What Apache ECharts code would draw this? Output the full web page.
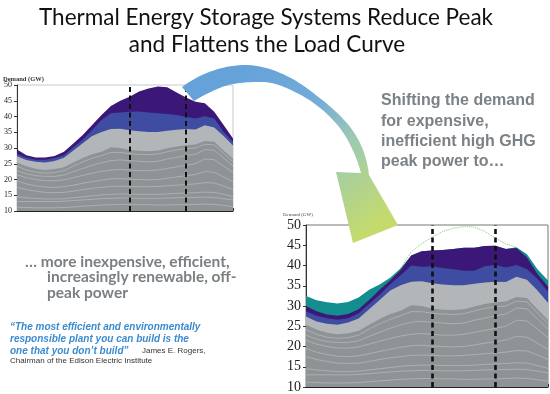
<!DOCTYPE html>
<html><head><meta charset="utf-8">
<script src="https://cdn.jsdelivr.net/npm/echarts@6/dist/echarts.min.js"></script>
<style>html,body{margin:0;padding:0;background:#fff;}#c{width:550px;height:394px;}</style>
</head><body><div id="c"></div>
<script>
// ---- data (GW by hour) ----
const hours = [0,1,2,3,4,5,6,7,8,9,10,11,12,13,14,15,16,17,18,19,20,21,22,23];
const peakWindow = [12, 18];
// shared base generation layers
const lightGrayTop = [27.4,26.2,25.6,25.4,25.9,26.9,29.2,31.5,33.8,35.1,36.0,36.1,35.6,35.3,35.1,35.1,35.5,35.8,36.0,35.9,37.2,36.5,33.8,30.8];
const darkGrayTop  = [25.4,24.2,23.4,23.0,23.3,23.9,25.4,26.8,28.0,28.8,30.2,30.0,29.4,29.1,29.0,29.2,29.9,30.5,30.9,31.1,32.2,32.0,29.2,26.6];
const genLine1 = [24.2,23.0,22.3,22.0,22.2,22.8,24.3,25.6,26.7,27.6,28.6,28.6,28.2,28.0,27.9,28.1,28.8,29.4,29.8,30.0,31.2,31.0,28.3,25.6];
const genLine2 = [22.8,21.8,21.2,21.0,21.0,21.4,22.5,23.5,24.5,25.3,26.0,26.2,26.0,25.8,25.6,25.8,26.5,27.0,27.6,28.0,29.5,29.3,26.8,24.3];
const genLine3 = [21.5,20.6,20.0,19.6,19.6,19.9,20.6,21.3,22.0,22.6,23.0,23.2,23.0,22.8,22.8,23.0,23.5,24.0,24.5,25.0,26.5,26.3,24.3,22.2];
const genLine4 = [19.5,18.6,18.0,17.6,17.5,17.7,18.2,18.8,19.3,19.8,20.2,20.3,20.1,20.0,19.9,20.0,20.4,20.8,21.2,21.6,22.5,22.3,20.8,19.3];
const genLine5 = [17.5,16.8,16.3,15.9,15.8,15.9,16.3,16.8,17.2,17.5,17.8,17.9,17.8,17.7,17.7,17.8,18.0,18.2,18.4,18.6,19.0,18.9,17.9,16.8];
const genLine6 = [14.5,14.2,14.0,13.8,13.8,13.9,14.2,14.5,14.8,15.1,15.3,15.4,15.4,15.3,15.3,15.3,15.4,15.6,15.7,15.8,16.0,15.9,15.3,14.6];
const genLine7 = [13.0,13.0,13.0,13.0,13.0,13.1,13.3,13.5,13.7,13.9,14.0,14.1,14.1,14.0,14.0,14.0,14.1,14.2,14.3,14.3,14.4,14.3,13.9,13.5];
const genLine8 = [11.2,11.1,11.0,11.0,11.0,11.1,11.3,11.5,11.7,11.9,12.0,12.1,12.1,12.0,12.0,11.9,11.9,12.0,12.0,12.1,12.2,12.1,11.8,11.4];
// before storage (left chart)
const beforeBlueTop   = [28.2,26.9,26.3,26.3,26.8,27.7,30.2,32.7,35.7,38.9,41.0,41.3,41.5,41.6,41.3,41.0,40.8,40.5,39.9,39.4,40.1,39.4,35.1,32.0];
const beforePurpleTop = [29.5,27.7,27.0,27.0,27.5,28.8,31.4,34.1,37.3,40.5,43.3,45.0,46.3,47.9,48.9,49.5,49.3,47.6,46.0,44.7,44.2,41.5,37.3,33.0];
// after storage (right chart)
const afterBlueTop   = [28.7,27.6,27.0,26.6,27.0,28.2,30.5,32.8,35.4,37.6,40.0,39.7,39.8,39.4,39.1,38.7,38.7,39.8,40.1,39.5,40.1,39.1,36.7,33.5];
const afterPurpleTop = [30.0,28.7,27.9,27.6,28.0,29.2,31.5,34.0,36.3,38.9,42.5,43.5,43.7,43.8,44.1,44.4,44.4,44.8,44.9,44.1,44.3,42.0,37.9,34.8];
const afterTealTop   = [32.5,31.4,30.9,30.6,31.0,32.1,34.0,35.3,37.0,39.3,42.5,43.5,43.7,43.8,44.1,44.4,44.4,44.8,44.9,44.1,44.5,42.8,39.1,36.3];
const originalPeak   = [null,null,null,null,null,null,null,null,null,39.4,43.4,45.4,47.0,48.4,49.2,49.6,49.5,48.4,46.8,45.3,44.5,null,null,null];
const yTicks = [10,15,20,25,30,35,40,45,50];

const C = {purple:'#3B1877', blue:'#3E4DA2', light:'#B3B6B8', dark:'#8E9496', teal:'#138D8D'};
const chart = echarts.init(document.getElementById('c'));
const pts = arr => hours.map((h,i)=>[h, arr[i]]);
function area(g, arr, color){
  return {type:'line', xAxisIndex:g, yAxisIndex:g, data:pts(arr), symbol:'none', silent:true,
    lineStyle:{width:0}, areaStyle:{color:color, opacity:1, origin:'start'}};
}
function gl(g, arr){
  return {type:'line', xAxisIndex:g, yAxisIndex:g, data:pts(arr), symbol:'none', silent:true,
    lineStyle:{color:'rgba(235,238,240,0.38)', width:0.8}};
}
function dashes(g, w){
  return {type:'line', xAxisIndex:g, yAxisIndex:g, data:[], z:10, markLine:{silent:true, symbol:['none','none'], label:{show:false},
    lineStyle:{color:'#111', type:[5,3.5], width:w}, data:peakWindow.map(v=>({xAxis:v}))}};
}
const genLines = [genLine1,genLine2,genLine3,genLine4,genLine5,genLine6,genLine7,genLine8];
const series = [];
series.push(area(0, beforePurpleTop, C.purple), area(0, beforeBlueTop, C.blue), area(0, lightGrayTop, C.light), area(0, darkGrayTop, C.dark));
genLines.forEach(a=>series.push(gl(0,a)));
series.push(dashes(0, 2));
series.push(area(1, afterTealTop, C.teal), area(1, afterPurpleTop, C.purple), area(1, afterBlueTop, C.blue), area(1, lightGrayTop, C.light), area(1, darkGrayTop, C.dark));
genLines.forEach(a=>series.push(gl(1,a)));
series.push({type:'line', xAxisIndex:1, yAxisIndex:1, data:pts(originalPeak), symbol:'none', silent:true, connectNulls:false,
  lineStyle:{color:'#8CC870', type:'dotted', width:1}});
series.push(dashes(1, 2.6));

function yAx(g, size, margin){
  return {gridIndex:g, type:'value', min:yTicks[0], max:yTicks[yTicks.length-1], interval:5,
    axisLine:{show:true, lineStyle:{color:'#333'}}, axisTick:{show:true, length:3, lineStyle:{color:'#333'}},
    axisLabel:{fontFamily:'Liberation Serif', fontSize:size, color:'#222', margin:margin}, splitLine:{show:false}};
}
function xAx(g, interval){
  return {gridIndex:g, type:'value', min:0, max:23, interval:interval,
    axisLine:{lineStyle:{color:'#222'}}, axisTick:{show:true, inside:true, length:3, lineStyle:{color:'#333'}},
    axisLabel:{show:false}, splitLine:{show:false}};
}
// decorative swoosh arrow outline (bezier segments sampled into a polygon)
function sampleArrow(){
  const segs = [
    ['M',[182,87]],
    ['C',[202,72],[225,65],[247,65]], ['C',[270,66],[292,77],[308,89]], ['C',[324,101],[342,115],[353,131]], ['C',[362,144],[367,158],[369,175]],
    ['L',[398,225]], ['L',[353,243]], ['L',[336,172]], ['L',[361,173]],
    ['C',[357,158],[350,142],[340,128]], ['C',[331,117],[316,102],[297,93]], ['C',[285,87],[274,82],[262,82]], ['C',[246,82],[233,83],[222,87]], ['C',[210,92],[202,96],[194,101]]
  ];
  const out = []; let cur = null;
  segs.forEach(s=>{
    if (s[0]==='M' || s[0]==='L'){ cur = s[1]; out.push(cur); }
    else { const p0=cur,p1=s[1],p2=s[2],p3=s[3];
      for (let i=1;i<=16;i++){ const t=i/16, u=1-t;
        out.push([u*u*u*p0[0]+3*u*u*t*p1[0]+3*u*t*t*p2[0]+t*t*t*p3[0], u*u*u*p0[1]+3*u*u*t*p1[1]+3*u*t*t*p2[1]+t*t*t*p3[1]]); }
      cur = p3; }
  });
  return out;
}
const T = (text, x, y, style) => ({type:'text', x:x, y:y, z:50, style:Object.assign({text:text, textAlign:'left', textVerticalAlign:'middle'}, style)});
const grayBold = {fill:'#7C8185', fontFamily:'Liberation Sans', fontWeight:'bold', fontSize:16};
const midBold = {fill:'#7A7F83', fontFamily:'Lato', fontWeight:'bold', fontSize:15.5};
const quote = {fill:'#3A8CD0', fontFamily:'Liberation Sans', fontWeight:'bold', fontStyle:'italic', fontSize:10};
const small = {fill:'#333', fontFamily:'Liberation Sans', fontSize:8};
const titleSt = {fill:'#111', fontFamily:'Lato', fontSize:22.5, textAlign:'center'};

chart.setOption({
  animation:false,
  grid:[{left:17, top:85, width:216, height:126, show:true, borderColor:'#c9c9c9', borderWidth:1, backgroundColor:'#fff'},
        {left:306, top:225, width:242, height:166, show:true, borderColor:'#777', borderWidth:1, backgroundColor:'#fff'}],
  xAxis:[xAx(0, 23/30), xAx(1, 1)],
  yAxis:[yAx(0, 8, 5), yAx(1, 14, 5)],
  series:series,
  graphic:[
    T('Thermal Energy Storage Systems Reduce Peak', 266, 18, titleSt),
    T('and Flattens the Load Curve', 267, 45, titleSt),
    T('Demand (GW)', 3, 79, {fill:'#333', fontFamily:'Liberation Serif', fontWeight:'bold', fontSize:6.5}),
    T('Demand (GW)', 283, 215, {fill:'#444', fontFamily:'Liberation Serif', fontSize:5}),
    T('Shifting the demand', 381, 101, grayBold),
    T('for expensive,', 381, 122, grayBold),
    T('inefficient high GHG', 381, 142, grayBold),
    T('peak power to\u2026', 381, 162, grayBold),
    T('\u2026 more inexpensive, efficient,', 25, 262, midBold),
    T('increasingly renewable, off-', 47, 277, midBold),
    T('peak power', 47, 293, midBold),
    T('\u201CThe most efficient and environmentally', 10, 327, quote),
    T('responsible plant you can build is the', 10, 339, quote),
    T('one that you don\u2019t build\u201D', 10, 351, quote),
    T('James E. Rogers,', 142, 351, small),
    T('Chairman of the Edison Electric Institute', 10, 361, small),
    {type:'polygon', z:40, shape:{points:sampleArrow()},
     style:{fill:{type:'linear', x:240, y:70, x2:365, y2:235, global:true, colorStops:[
       {offset:0, color:'#65A2D9'}, {offset:0.35, color:'#74ACD9'}, {offset:0.6, color:'#9ECBB0'}, {offset:1, color:'#C4DB6C'}]}}}
  ]
});
</script></body></html>
